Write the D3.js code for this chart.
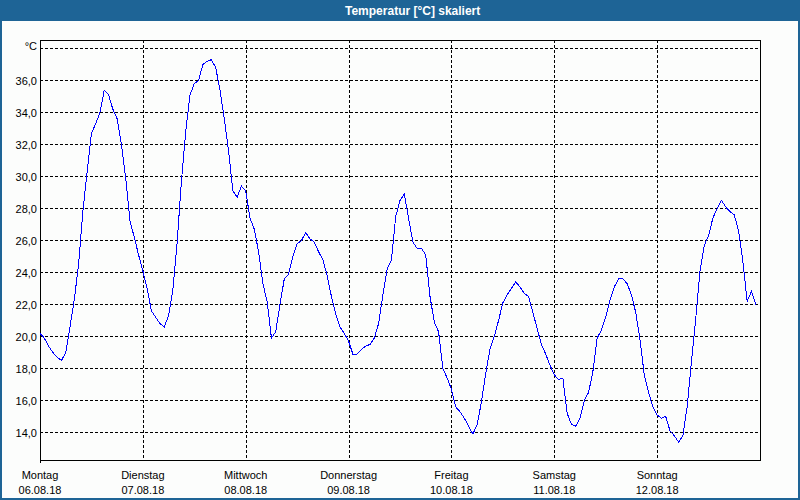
<!DOCTYPE html>
<html>
<head>
<meta charset="utf-8">
<script src="https://cdn.jsdelivr.net/npm/d3@7"></script>
<style>
  html, body { margin: 0; padding: 0; background: #fcfdfc; }
  svg { display: block; }
  text { font-family: "Liberation Sans", Arial, sans-serif; }
</style>
</head>
<body>
<svg id="chart" width="800" height="500"></svg>
<script>
// ---- data (hourly temperatures, Mon 06.08.18 00:00 ... Sun 12.08.18 23:00) ----
const title = "Temperatur [°C] skaliert";
const unitLabel = "°C";
const dayNames = ["Montag", "Dienstag", "Mittwoch", "Donnerstag", "Freitag", "Samstag", "Sonntag"];
const dayDates = ["06.08.18", "07.08.18", "08.08.18", "09.08.18", "10.08.18", "11.08.18", "12.08.18"];
const yTickValues = [14, 16, 18, 20, 22, 24, 26, 28, 30, 32, 34, 36];
const yGridValues = [14, 16, 18, 20, 22, 24, 26, 28, 30, 32, 34, 36, 38];

const tempMon = [20.2, 19.9, 19.4, 19.0, 18.7, 18.5, 19.0, 20.6, 22.3, 24.5, 27.8, 30.3,
                 32.7, 33.3, 34.0, 35.4, 35.1, 34.2, 33.6, 32.0, 29.9, 27.2, 26.2, 25.1];
const tempTue = [24.1, 23.0, 21.6, 21.2, 20.8, 20.6, 21.3, 22.9, 25.9, 29.7, 32.8, 35.1,
                 35.8, 36.0, 37.0, 37.2, 37.3, 36.8, 35.4, 33.6, 31.6, 29.1, 28.7, 29.4];
const tempWed = [29.1, 27.4, 26.7, 25.3, 23.3, 22.2, 19.9, 20.3, 22.0, 23.6, 23.9, 25.0,
                 25.8, 26.0, 26.5, 26.1, 25.9, 25.3, 24.8, 23.8, 22.5, 21.4, 20.6, 20.2];
const tempThu = [19.7, 18.9, 18.9, 19.2, 19.4, 19.5, 19.9, 20.8, 22.6, 24.2, 24.8, 27.5,
                 28.5, 28.9, 27.4, 25.9, 25.5, 25.5, 25.1, 22.5, 20.9, 20.3, 18.0, 17.4];
const tempFri = [16.7, 15.6, 15.3, 14.9, 14.4, 13.9, 14.5, 15.9, 17.7, 19.2, 20.0, 21.0,
                 22.1, 22.6, 23.0, 23.4, 23.1, 22.7, 22.5, 21.5, 20.5, 19.5, 18.9, 18.2];
const tempSat = [17.6, 17.3, 17.4, 15.2, 14.5, 14.4, 14.9, 16.0, 16.5, 17.8, 19.9, 20.4,
                 21.2, 22.3, 23.1, 23.6, 23.6, 23.3, 22.6, 21.5, 19.8, 17.6, 16.5, 15.6];
const tempSun = [15.1, 14.9, 15.0, 14.1, 13.8, 13.4, 13.8, 15.6, 18.4, 21.1, 24.1, 25.7,
                 26.3, 27.4, 28.0, 28.5, 28.1, 27.8, 27.6, 26.6, 24.7, 22.2, 22.8, 22.0];

// ---- layout ----
const W = 800, H = 500;
const plot = { left: 40, top: 40, right: 760, bottom: 460 };
const blue = "#1e6496";

const svg = d3.select("#chart");

const values = [].concat(tempMon, tempTue, tempWed, tempThu, tempFri, tempSat, tempSun);
const hours = values.map((v, i) => ({ h: i, v: v }));

const x = d3.scaleLinear().domain([0, 24 * 7]).range([plot.left, plot.right]);
const y = d3.scaleLinear().domain([12.28, 38.53]).range([plot.bottom, plot.top]);

// background
svg.append("rect").attr("x", 0).attr("y", 0).attr("width", W).attr("height", H).attr("fill", "#fcfdfc");

// title bar
svg.append("rect").attr("x", 0).attr("y", 0).attr("width", W).attr("height", 21).attr("fill", blue);
svg.append("text").attr("x", 345).attr("y", 15)
  .attr("fill", "#ffffff").attr("font-size", "12px").attr("font-weight", "bold")
  .text(title);

// outer frame (left, right, bottom)
svg.append("rect").attr("x", 0).attr("y", 20).attr("width", 2).attr("height", H - 20).attr("fill", blue);
svg.append("rect").attr("x", W - 2).attr("y", 20).attr("width", 2).attr("height", H - 20).attr("fill", blue);
svg.append("rect").attr("x", 0).attr("y", H - 2).attr("width", W).attr("height", 2).attr("fill", blue);

// horizontal grid
const g = svg.append("g").attr("shape-rendering", "crispEdges");
g.selectAll("line.hgrid").data(yGridValues).enter().append("line")
  .attr("class", "hgrid")
  .attr("x1", plot.left).attr("x2", plot.right)
  .attr("y1", d => Math.round(y(d)) + 0.5).attr("y2", d => Math.round(y(d)) + 0.5)
  .attr("stroke", "#000").attr("stroke-width", 1).attr("stroke-dasharray", "3,2");

// vertical grid (day boundaries)
const dayIdx = d3.range(1, 7);
g.selectAll("line.vgrid").data(dayIdx).enter().append("line")
  .attr("class", "vgrid")
  .attr("x1", d => Math.round(x(d * 24)) + 0.5).attr("x2", d => Math.round(x(d * 24)) + 0.5)
  .attr("y1", plot.top).attr("y2", plot.bottom)
  .attr("stroke", "#000").attr("stroke-width", 1).attr("stroke-dasharray", "3,2");

// data line
const line = d3.line().x(d => x(d.h)).y(d => y(d.v));
svg.append("path").datum(hours)
  .attr("d", line)
  .attr("fill", "none").attr("stroke", "#0000ff").attr("stroke-width", 1)
  .attr("shape-rendering", "crispEdges");

// plot frame
g.append("rect")
  .attr("x", plot.left + 0.5).attr("y", plot.top + 0.5)
  .attr("width", plot.right - plot.left).attr("height", plot.bottom - plot.top)
  .attr("fill", "none").attr("stroke", "#000").attr("stroke-width", 1);
g.append("line").attr("x1", plot.left + 0.5).attr("x2", plot.left + 0.5)
  .attr("y1", plot.bottom).attr("y2", plot.bottom + 3).attr("stroke", "#000");

// y labels
svg.selectAll("text.ylab").data(yTickValues).enter().append("text")
  .attr("class", "ylab")
  .attr("x", 37).attr("y", d => Math.round(y(d)) + 5)
  .attr("text-anchor", "end").attr("font-size", "11px").attr("fill", "#000")
  .text(d => d3.format(".1f")(d).replace(".", ","));
svg.append("text").attr("x", 37).attr("y", 50)
  .attr("text-anchor", "end").attr("font-size", "11px").attr("fill", "#000")
  .text(unitLabel);

// x labels
const days = d3.range(0, 7);
svg.selectAll("text.xday").data(days).enter().append("text")
  .attr("class", "xday")
  .attr("x", d => x(d * 24)).attr("y", 479)
  .attr("text-anchor", "middle").attr("font-size", "11px").attr("fill", "#000")
  .text(d => dayNames[d]);
svg.selectAll("text.xdate").data(days).enter().append("text")
  .attr("class", "xdate")
  .attr("x", d => x(d * 24)).attr("y", 494)
  .attr("text-anchor", "middle").attr("font-size", "11px").attr("fill", "#000")
  .text(d => dayDates[d]);
</script>
</body>
</html>
